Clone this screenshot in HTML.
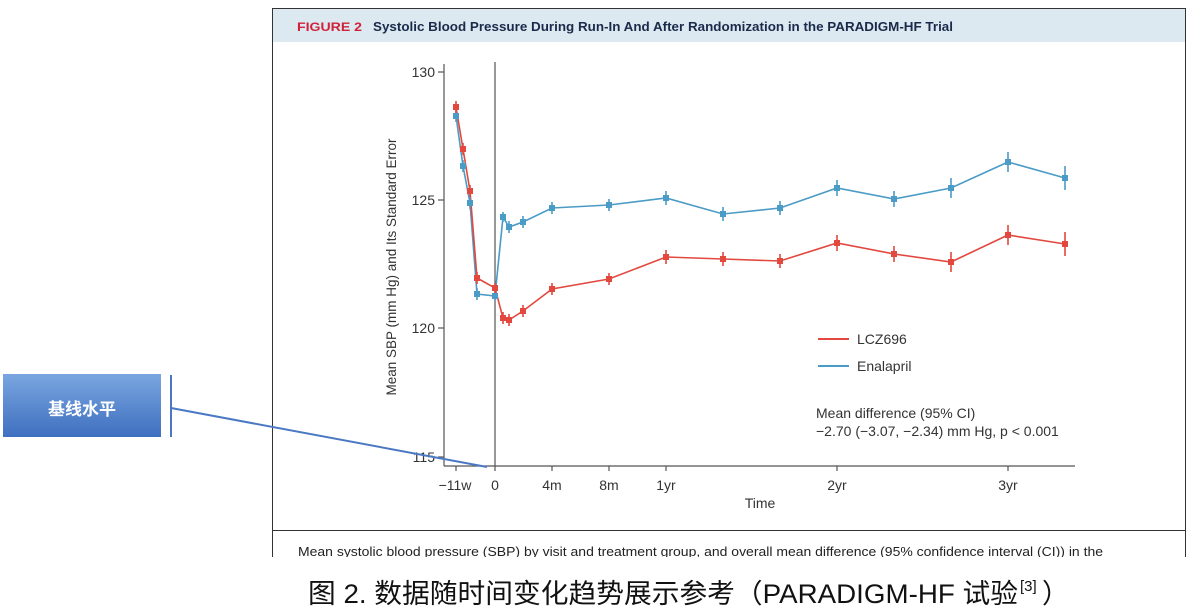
<!DOCTYPE html>
<html><head><meta charset="utf-8"><style>
html,body{margin:0;padding:0;background:#fff;width:1191px;height:615px;overflow:hidden}
</style></head><body>
<svg width="1191" height="615" xmlns="http://www.w3.org/2000/svg" font-family="Liberation Sans, sans-serif">
<rect x="272.5" y="8.5" width="913" height="560" fill="#fff" stroke="#333" stroke-width="1"/>
<rect x="273" y="9" width="912" height="33" fill="#dde9f1"/>
<text x="297" y="31" font-size="12" font-weight="bold" fill="#d0203a" textLength="65" lengthAdjust="spacingAndGlyphs">FIGURE 2</text>
<text x="373" y="31" font-size="12.5" font-weight="bold" fill="#1a2a4a" textLength="580" lengthAdjust="spacingAndGlyphs">Systolic Blood Pressure During Run-In And After Randomization in the PARADIGM-HF Trial</text>
<line x1="273" y1="530.5" x2="1185" y2="530.5" stroke="#333"/>
<rect x="0" y="557" width="1191" height="58" fill="#fff"/>
<text x="298" y="556" font-size="13" fill="#222" textLength="805" lengthAdjust="spacingAndGlyphs">Mean systolic blood pressure (SBP) by visit and treatment group, and overall mean difference (95% confidence interval (CI)) in the</text>
<rect x="273" y="557" width="913" height="12" fill="#fff"/>
<text x="308" y="603" font-size="27" fill="#111" font-family="Liberation Sans, Noto Sans CJK SC, sans-serif" textLength="710" lengthAdjust="spacingAndGlyphs">图  2. 数据随时间变化趋势展示参考（PARADIGM-HF 试验</text>
<text x="1020" y="591" font-size="15" fill="#111">[3]</text>
<text x="1042" y="603" font-size="27" fill="#111" font-family="Liberation Sans, Noto Sans CJK SC, sans-serif">）</text>
<!-- axes -->
<g stroke="#555" stroke-width="1.2" fill="none">
<line x1="444" y1="64" x2="444" y2="466"/>
<line x1="444" y1="466" x2="1075" y2="466"/>
<line x1="495" y1="62" x2="495" y2="466"/>
<line x1="438" y1="72" x2="444" y2="72"/><line x1="438" y1="200" x2="444" y2="200"/><line x1="438" y1="328" x2="444" y2="328"/><line x1="438" y1="457" x2="444" y2="457"/>
<line x1="456" y1="466" x2="456" y2="471"/><line x1="495" y1="466" x2="495" y2="471"/><line x1="552" y1="466" x2="552" y2="471"/><line x1="609" y1="466" x2="609" y2="471"/><line x1="666" y1="466" x2="666" y2="471"/><line x1="837" y1="466" x2="837" y2="471"/><line x1="1008" y1="466" x2="1008" y2="471"/>
</g>
<g font-size="14" fill="#333" text-anchor="end">
<text x="435" y="77">130</text><text x="435" y="205">125</text><text x="435" y="333">120</text><text x="435" y="462">115</text>
</g>
<g font-size="14" fill="#333" text-anchor="middle">
<text x="455" y="490">−11w</text><text x="495" y="490">0</text><text x="552" y="490">4m</text><text x="609" y="490">8m</text><text x="666" y="490">1yr</text><text x="837" y="490">2yr</text><text x="1008" y="490">3yr</text>
<text x="760" y="508">Time</text>
</g>
<text transform="translate(396,267) rotate(-90)" font-size="13.5" text-anchor="middle" fill="#333">Mean SBP (mm Hg) and Its Standard Error</text>
<!-- series -->
<polyline fill="none" stroke="#4a9bc6" stroke-width="1.6" points="456,116 463,166 470,203 477,294 495,296 503,217 509,227 523,222 552,208 609,205 666,198 723,214 780,208 837,188 894,199 951,188 1008,162 1065,178"/>
<polyline fill="none" stroke="#e2483e" stroke-width="1.6" points="456,107 463,149 470,191 477,278 495,288 503,318 509,320 523,311 552,289 609,279 666,257 723,259 780,261 837,243 894,254 951,262 1008,235 1065,244"/>
<g stroke="#4a9bc6" stroke-width="1.6" fill="#4a9bc6">
<path d="M456 110v12M463 160v12M470 197v12M477 288v12M495 291v10M503 212v10M509 221v12M523 216v12M552 202v12M609 199v12M666 191v14M723 207v14M780 201v14M837 180v16M894 191v16M951 178v20M1008 152v20M1065 166v24"/>
</g>
<g fill="#4a9bc6">
<rect x="453" y="113" width="6" height="6"/><rect x="460" y="163" width="6" height="6"/><rect x="467" y="200" width="6" height="6"/><rect x="474" y="291" width="6" height="6"/><rect x="492" y="293" width="6" height="6"/><rect x="500" y="214" width="6" height="6"/><rect x="506" y="224" width="6" height="6"/><rect x="520" y="219" width="6" height="6"/><rect x="549" y="205" width="6" height="6"/><rect x="606" y="202" width="6" height="6"/><rect x="663" y="195" width="6" height="6"/><rect x="720" y="211" width="6" height="6"/><rect x="777" y="205" width="6" height="6"/><rect x="834" y="185" width="6" height="6"/><rect x="891" y="196" width="6" height="6"/><rect x="948" y="185" width="6" height="6"/><rect x="1005" y="159" width="6" height="6"/><rect x="1062" y="175" width="6" height="6"/>
</g>
<g stroke="#e2483e" stroke-width="1.6">
<path d="M456 101v12M463 143v12M470 185v12M477 272v12M495 283v10M503 312v12M509 314v12M523 305v12M552 283v12M609 273v12M666 250v14M723 252v14M780 254v14M837 235v16M894 246v16M951 252v20M1008 225v20M1065 232v24"/>
</g>
<g fill="#e2483e">
<rect x="453" y="104" width="6" height="6"/><rect x="460" y="146" width="6" height="6"/><rect x="467" y="188" width="6" height="6"/><rect x="474" y="275" width="6" height="6"/><rect x="492" y="285" width="6" height="6"/><rect x="500" y="315" width="6" height="6"/><rect x="506" y="317" width="6" height="6"/><rect x="520" y="308" width="6" height="6"/><rect x="549" y="286" width="6" height="6"/><rect x="606" y="276" width="6" height="6"/><rect x="663" y="254" width="6" height="6"/><rect x="720" y="256" width="6" height="6"/><rect x="777" y="258" width="6" height="6"/><rect x="834" y="240" width="6" height="6"/><rect x="891" y="251" width="6" height="6"/><rect x="948" y="259" width="6" height="6"/><rect x="1005" y="232" width="6" height="6"/><rect x="1062" y="241" width="6" height="6"/>
</g>
<!-- legend -->
<line x1="818" y1="339" x2="849" y2="339" stroke="#e2483e" stroke-width="2"/>
<line x1="818" y1="366" x2="849" y2="366" stroke="#4a9bc6" stroke-width="2"/>
<g font-size="14" fill="#333">
<text x="857" y="344">LCZ696</text><text x="857" y="371">Enalapril</text>
<text x="816" y="418">Mean difference (95% CI)</text>
<text x="816" y="436">−2.70 (−3.07, −2.34) mm Hg, p &lt; 0.001</text>
</g>
<!-- annotation -->
<defs><linearGradient id="g" x1="0" y1="0" x2="0" y2="1"><stop offset="0" stop-color="#7aa6e0"/><stop offset="1" stop-color="#3f6fc0"/></linearGradient></defs>
<rect x="3" y="374" width="158" height="63" fill="url(#g)"/>
<text x="82" y="415" font-size="17" font-weight="bold" fill="#fff" text-anchor="middle" font-family="Liberation Sans, Noto Sans CJK SC, sans-serif">基线水平</text>
<line x1="171" y1="375" x2="171" y2="437" stroke="#4a78c4" stroke-width="2"/>
<line x1="171" y1="408" x2="487" y2="467" stroke="#4a78c4" stroke-width="2"/>
</svg>
</body></html>
